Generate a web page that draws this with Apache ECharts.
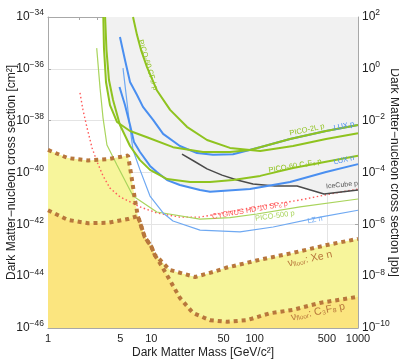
<!DOCTYPE html>
<html><head><meta charset="utf-8">
<script src="https://cdn.jsdelivr.net/npm/echarts@6/dist/echarts.min.js"></script>
<style>html,body{margin:0;padding:0;background:#fff}#c{width:399px;height:360px}</style>
</head><body><div id="c"></div>
<script>
// ---- data: [mass GeV/c^2, cross section cm^2] ----
const picoCF3Ip = [[6.65,1e-34],[7.27,2.0e-35],[7.94,5.4e-36],[9.08,1.17e-36],[11.3,1.5e-37],[15.2,2.6e-38],[22.1,5.8e-39],[34.6,1.8e-39],[57.7,8.9e-40],[113,6.8e-40],[235,1.05e-39],[490,1.95e-39],[1000,3.3e-39]];
const pico2Lp = [[3.43,1e-34],[3.48,6.3e-36],[3.64,3.1e-37],[3.98,4.0e-38],[4.65,8.9e-39],[6.22,4.0e-39],[9.08,2.3e-39],[16.2,9.5e-40],[31.6,6.2e-40],[57.7,6.2e-40],[90.2,7.4e-40],[220,1.95e-39],[490,4.0e-39],[1000,6.8e-39]];
const luxP = [[4.97,1.7e-35],[5.56,2.2e-36],[6.22,3.1e-37],[7.27,9.8e-38],[8.30,3.4e-38],[10.4,1.07e-38],[13.0,3.1e-39],[18.9,1.05e-39],[27.7,5.6e-40],[39.5,4.8e-40],[61.7,5.1e-40],[113,9.5e-40],[220,1.95e-39],[490,4.0e-39],[1000,6.8e-39]];
const pico60C3F8p = [[3.57,1e-34],[3.68,5.4e-36],[3.89,3.7e-37],[4.26,6.3e-38],[4.97,6.8e-39],[6.22,1.05e-39],[7.77,3.0e-40],[9.71,1.26e-40],[14.2,5.6e-41],[23.7,4.3e-41],[37.0,4.3e-41],[61.7,5.1e-41],[113,7.4e-41],[235,1.48e-40],[490,2.6e-40],[1000,4.4e-40]];
const luxN = [[4.92,2.0e-37],[5.56,4.0e-38],[6.22,6.8e-39],[6.79,1.5e-39],[7.77,6.2e-40],[9.71,1.8e-40],[11.3,1.05e-40],[14.2,5.1e-41],[18.9,3.3e-41],[29.6,2.1e-41],[37.0,1.8e-41],[90.2,2.3e-41],[220,4.3e-41],[490,1.05e-40],[1000,2.1e-40]];
const iceCubeP = [[19.8,5.1e-40],[26.5,2.6e-40],[34.6,1.38e-40],[48.3,7.9e-41],[67.5,5.1e-41],[96.4,3.6e-41],[157,3.0e-41],[257,3.0e-41],[469,1.48e-41],[1000,2.1e-41]];
const pico500p = [[2.96,6.3e-36],[3.19,1.8e-37],[3.41,1.26e-38],[3.72,1.15e-39],[4.65,1.95e-40],[6.65,1.23e-41],[11.3,3.0e-42],[29.6,1.6e-42],[57.7,1.8e-42],[105,2.5e-42],[275,4.7e-42],[1000,9.5e-42]];
const lzN = [[5.32,1.07e-36],[5.75,7.6e-38],[6.22,5.2e-39],[6.65,7.4e-40],[7.77,1.26e-40],[9.71,1.23e-41],[13.0,2.75e-42],[16.2,1.35e-42],[29.6,6.0e-43],[72.1,5.1e-43],[151,7.9e-43],[429,1.9e-42],[1000,3.5e-42]];
const cygnusP = [[2.04,1.17e-37],[2.18,2.6e-38],[2.39,5.2e-39],[2.67,8.9e-40],[2.98,2.6e-40],[3.41,7.4e-41],[3.98,2.5e-41],[4.97,1.15e-41],[7.77,4.7e-42],[11.3,2.75e-42],[18.9,1.9e-42],[29.6,1.9e-42],[49.4,2.75e-42],[105,4.7e-42],[275,8.7e-42],[536,1.48e-41],[1000,2.3e-41]];
const nuFloorXeN = [[1,7.4e-40],[1.56,3.6e-40],[2.44,2.9e-40],[3.81,3.3e-40],[5.95,4.5e-40],[6.35,9.5e-41],[6.95,8.7e-42],[7.42,2.0e-42],[8.62,3.3e-43],[10.0,1.38e-43],[10.8,6.6e-44],[12.1,4.3e-44],[15.1,1.74e-44],[26.5,9.3e-45],[39.5,1.45e-44],[52.7,2.1e-44],[112,4.3e-44],[235,7.9e-44],[501,1.6e-43],[1000,2.75e-43]];
const nuFloorC3F8p = [[1,3.5e-42],[1.56,1.48e-42],[2.44,1.1e-42],[3.81,1.15e-42],[5.95,1.6e-42],[7.42,2.1e-42],[8.62,3.3e-43],[10.0,1.38e-43],[10.8,6.6e-44],[12.1,3.2e-44],[15.1,7.1e-45],[18.9,1.45e-45],[25.3,3.8e-46],[36.9,2.0e-46],[54.2,1.74e-46],[84.2,2.0e-46],[140,3.7e-46],[235,5.0e-46],[426,9.3e-46],[1000,1.6e-45]];
// lower edge of the grey (excluded) region
const excludedBoundary = [[3.43,1e-34],[3.48,6.3e-36],[3.64,3.1e-37],[3.98,4.0e-38],[4.65,8.9e-39],[4.97,6.8e-39],[6.22,1.05e-39],[7.77,3.0e-40],[9.71,1.26e-40],[12.5,7.0e-41],[14.2,5.1e-41],[18.9,3.3e-41],[29.6,2.1e-41],[37.0,1.8e-41],[90.2,2.3e-41],[130,3.1e-41],[157,3.0e-41],[257,3.0e-41],[469,1.48e-41],[1000,2.1e-41]];
const massTickLabels = [1,5,10,50,100,500,1000];
const massMinorTicks = [1,2,3,4,5,6,7,8,9,10,20,30,40,50,60,70,80,90,100,200,300,400,500,600,700,800,900,1000];
const sigmaTickLabels = [1e-46,1e-44,1e-42,1e-40,1e-38,1e-36,1e-34];
const pbTickLabels = [1e-10,1e-8,1e-6,1e-4,1e-2,1,1e2];

const FONT = 'Liberation Sans, Arial, Helvetica, sans-serif';
const GREEN = '#8fc31f', GREEN_T = '#a9d45c', BLUE = '#4a8ff0', BLUE_T = '#6fa9f2';
const BROWN = '#b8773c', RED = '#ff5a5a', GRAYFILL = '#f1f1f1', AX = '#a8a8a8';
const L = Math.log10;
const toLog = d => d.map(p => [L(p[0]), L(p[1])]);

const chart = echarts.init(document.getElementById('c'), null, {renderer: 'canvas'});

function fill(data, color, origin, z) {
  return {type: 'line', data: toLog(data), symbol: 'none', silent: true, z, xAxisIndex: 0, yAxisIndex: 0,
    lineStyle: {opacity: 0, width: 0}, areaStyle: {color, opacity: 1, origin}};
}
function curve(data, color, width, type, z) {
  return {type: 'line', data: toLog(data), symbol: 'none', silent: true, z, xAxisIndex: 0, yAxisIndex: 0,
    lineStyle: {color, width, type: type || 'solid', cap: 'butt'}};
}
function expLabel(v) {
  const e = Math.round(v);
  return '{b|10}{s|' + (e < 0 ? '\u2212' + (-e) : e) + '}';
}
const supRich = {b: {fontSize: 12, fontFamily: FONT, color: '#222'}, s: {fontSize: 8.5, fontFamily: FONT, color: '#222', padding: [0, 0, 8, 0]}};
const logMassMinor = massMinorTicks.map(L), logMassLab = massTickLabels.map(L);
const nameStyle = {fontSize: 12, fontFamily: FONT, color: '#222'};
const noArea = {show: false};
const frameLine = {show: true, onZero: false, lineStyle: {color: AX}};

const option = {
  animation: false,
  backgroundColor: '#fff',
  grid: {left: 48, right: 41, top: 17, bottom: 32, containLabel: false, outerBoundsMode: 'none', show: false},
  xAxis: [
    {type: 'value', min: 0, max: 3, position: 'bottom',
      name: 'Dark Matter Mass [GeV/c\u00b2]', nameLocation: 'middle', nameGap: 19, nameMoveOverlap: false,
      nameTextStyle: nameStyle,
      axisLine: frameLine,
      axisTick: {show: true, inside: true, length: 3, lineStyle: {color: AX}, customValues: logMassMinor},
      axisLabel: {show: true, customValues: logMassLab, fontSize: 11, fontFamily: FONT, color: '#222', margin: 5,
        formatter: v => String(Math.round(Math.pow(10, v)))},
      splitLine: {show: false}, splitArea: noArea},
    {type: 'value', min: 0, max: 3, position: 'top',
      axisLine: frameLine,
      axisTick: {show: true, inside: true, length: 3, lineStyle: {color: AX}, customValues: logMassMinor},
      axisLabel: {show: false}, splitLine: {show: false}, splitArea: noArea},
    {type: 'value', min: 0, max: 3, position: 'bottom', offset: 0,
      axisLine: {show: false, onZero: false}, axisLabel: {show: false},
      axisTick: {show: false, customValues: logMassLab},
      splitLine: {show: true, lineStyle: {color: '#e4e4e4', width: 1}}, splitArea: noArea}
  ],
  yAxis: [
    {type: 'value', min: L(sigmaTickLabels[0]), max: L(sigmaTickLabels[6]), interval: 2, position: 'left',
      name: 'Dark Matter\u2212nucleon cross section [cm\u00b2]', nameLocation: 'middle', nameGap: 30, nameMoveOverlap: false,
      nameTextStyle: nameStyle,
      axisLine: frameLine,
      axisTick: {show: true, inside: true, length: 3, lineStyle: {color: AX}},
      axisLabel: {formatter: expLabel, rich: supRich, margin: 4},
      splitLine: {show: true, lineStyle: {color: '#e4e4e4'}}, splitArea: noArea},
    {type: 'value', min: L(pbTickLabels[0]), max: L(pbTickLabels[6]), interval: 2, position: 'right',
      name: 'Dark Matter\u2212nucleon cross section [pb]', nameLocation: 'middle', nameGap: 30, nameRotate: -90, nameMoveOverlap: false,
      nameTextStyle: nameStyle,
      axisLine: frameLine,
      axisTick: {show: true, inside: true, length: 3, lineStyle: {color: AX}},
      axisLabel: {formatter: expLabel, rich: supRich, margin: 4},
      splitLine: {show: false}, splitArea: noArea}
  ],
  series: [
    fill(excludedBoundary, GRAYFILL, 'end', 1),
    fill(nuFloorXeN, '#f7f59b', 'start', 1),
    fill(nuFloorC3F8p, '#fbe57f', 'start', 1),
    curve(cygnusP, RED, 1.4, [1.5, 2.5], 3),
    curve(pico500p, GREEN_T, 1.2, 'solid', 3),
    curve(lzN, BLUE_T, 1.2, 'solid', 3),
    curve(iceCubeP, '#4a4a4a', 1.5, 'solid', 3),
    curve(luxN, BLUE, 2, 'solid', 3),
    curve(luxP, BLUE, 2, 'solid', 3),
    curve(pico60C3F8p, GREEN, 2, 'solid', 4),
    curve(picoCF3Ip, GREEN, 2, 'solid', 4),
    curve(pico2Lp, GREEN, 2, 'solid', 4),
    curve(nuFloorXeN, BROWN, 4, [4, 4], 5),
    curve(nuFloorC3F8p, BROWN, 4, [4, 4], 5)
  ]
};
chart.setOption(option);

const notes = [
  {text: 'PICO-60 CF\u2083I p', at: [9.29, 1.4e-36], rot: -73, color: GREEN, size: 7.5},
  {text: 'PICO-2L p', at: [321, 4.4e-39], rot: 12, color: GREEN, size: 7.5},
  {text: 'LUX p', at: [732, 6.2e-39], rot: 12, color: BLUE, size: 7.5},
  {text: 'PICO-60 C\u2083F\u2088 p', at: [246, 1.8e-40], rot: 10, color: GREEN, size: 7.5},
  {text: 'LUX n', at: [732, 3.0e-40], rot: 12, color: BLUE, size: 7.5},
  {text: 'IceCube p', at: [700, 3.3e-41], rot: 6, color: '#555', size: 7},
  {text: 'CYGNUS HD-10 SF\u2086 p', at: [90.2, 3.5e-42], rot: 10, color: RED, size: 7.5},
  {text: 'PICO-500 p', at: [157, 2.1e-42], rot: 8, color: GREEN_T, size: 7.5},
  {text: 'LZ n', at: [384, 1.48e-42], rot: 10, color: BLUE_T, size: 7.5}
];
const floorNotes = [
  {rest: ': Xe n', at: [343, 4.6e-44], rot: 12},
  {rest: ': C\u2083F\u2088 p', at: [410, 4.2e-46], rot: 12}
];
const px = at => chart.convertToPixel({xAxisIndex: 0, yAxisIndex: 0}, [L(at[0]), L(at[1])]);
const graphics = notes.map(n => {
  const p = px(n.at);
  return {type: 'text', x: p[0], y: p[1], rotation: n.rot * Math.PI / 180, silent: true, z: 10,
    style: {text: n.text, fill: n.color, fontSize: n.size, fontFamily: FONT, align: 'center', verticalAlign: 'middle'}};
}).concat(floorNotes.map(n => {
  const p = px(n.at);
  return {type: 'text', x: p[0], y: p[1], rotation: n.rot * Math.PI / 180, silent: true, z: 10,
    style: {text: '{a|\u03bd}{f|floor}{a|' + n.rest + '}', align: 'center', verticalAlign: 'middle',
      rich: {a: {fontSize: 10.5, fontFamily: FONT, fill: BROWN, color: BROWN},
             f: {fontSize: 6.5, fontFamily: FONT, fill: BROWN, color: BROWN, padding: [4, 0, 0, 0]}}}};
}));
chart.setOption({graphic: graphics});
</script>
</body></html>
